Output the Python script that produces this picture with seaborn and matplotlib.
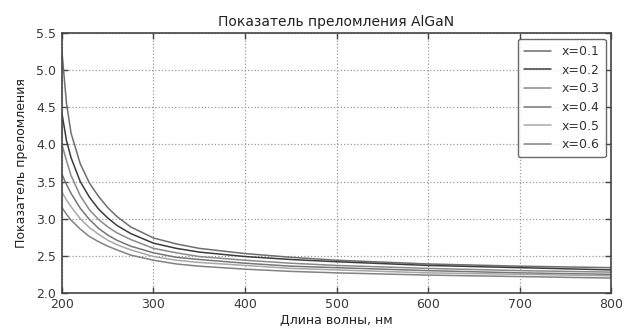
import numpy as np
import pandas as pd
import matplotlib
matplotlib.use("Agg")
import matplotlib.pyplot as plt
import seaborn as sns

# длины волн, нм
wavelength = [200, 205, 210, 220, 230, 240, 250, 260, 275, 300, 325, 350, 400, 450, 500, 600, 700, 800]

# показатель преломления для разных x (оценка по картинке)
n_x01 = [5.25, 4.55, 4.15, 3.74, 3.48, 3.30, 3.15, 3.03, 2.89, 2.74, 2.66, 2.60, 2.53, 2.48, 2.44, 2.39, 2.36, 2.34]
n_x02 = [4.42, 4.05, 3.82, 3.50, 3.29, 3.13, 3.01, 2.91, 2.80, 2.67, 2.60, 2.55, 2.49, 2.45, 2.42, 2.37, 2.34, 2.31]
n_x03 = [4.00, 3.78, 3.58, 3.31, 3.12, 2.99, 2.89, 2.81, 2.72, 2.60, 2.54, 2.49, 2.44, 2.40, 2.37, 2.33, 2.30, 2.28]
n_x04 = [3.60, 3.46, 3.34, 3.14, 2.99, 2.87, 2.78, 2.71, 2.63, 2.54, 2.48, 2.45, 2.40, 2.36, 2.34, 2.30, 2.27, 2.25]
n_x05 = [3.36, 3.25, 3.16, 3.00, 2.88, 2.79, 2.71, 2.65, 2.58, 2.49, 2.44, 2.41, 2.37, 2.33, 2.31, 2.27, 2.25, 2.23]
n_x06 = [3.15, 3.06, 2.98, 2.86, 2.76, 2.69, 2.63, 2.58, 2.51, 2.44, 2.39, 2.36, 2.32, 2.29, 2.27, 2.24, 2.22, 2.20]

labels = ["x=0.1", "x=0.2", "x=0.3", "x=0.4", "x=0.5", "x=0.6"]
colors = ["#6e6e6e", "#3c3c3c", "#8a8a8a", "#767676", "#a8a8a8", "#828282"]

series = [n_x01, n_x02, n_x03, n_x04, n_x05, n_x06]
df = pd.concat([pd.DataFrame({"wl": wavelength, "n": s, "x": lab}) for s, lab in zip(series, labels)])

sns.set_style("white")
plt.rcParams["font.family"] = ["DejaVu Sans"]
plt.rcParams["xtick.direction"] = "in"
plt.rcParams["ytick.direction"] = "in"

fig = plt.figure(figsize=(6.32, 3.28), dpi=100)
ax = fig.add_axes([0.098, 0.107, 0.869, 0.792])

sns.lineplot(data=df, x="wl", y="n", hue="x", palette=colors, linewidth=1.1, ax=ax)

ax.set_xlim(200, 800)
ax.set_ylim(2.0, 5.5)
ax.set_xticks([200, 300, 400, 500, 600, 700, 800])
ax.set_yticks([2.0, 2.5, 3.0, 3.5, 4.0, 4.5, 5.0, 5.5])
ax.set_yticklabels(["2.0", "2.5", "3.0", "3.5", "4.0", "4.5", "5.0", "5.5"])
ax.grid(True, linestyle=":", color="#9a9a9a", linewidth=0.9)
ax.tick_params(axis="both", which="both", top=True, right=True, bottom=True, left=True,
               length=4, width=1, color="#444444", labelsize=9, labelcolor="#3a3a3a", pad=4)
for sp in ax.spines.values():
    sp.set_color("#444444")
    sp.set_linewidth(1.2)

ax.set_title("Показатель преломления AlGaN", fontsize=10, color="#222222", pad=5)
ax.set_xlabel("Длина волны, нм", fontsize=9, color="#222222", labelpad=2)
ax.set_ylabel("Показатель преломления", fontsize=9, color="#222222", labelpad=6)

leg = ax.legend(loc="upper right", fontsize=9, frameon=True, fancybox=True,
                handlelength=2.2, labelspacing=0.45, borderpad=0.5,
                bbox_to_anchor=(1.0, 1.0), borderaxespad=0.45)
leg.get_frame().set_edgecolor("#444444")
leg.get_frame().set_linewidth(1.0)
for t in leg.get_texts():
    t.set_color("#333333")

fig.savefig("out.png", dpi=100)
